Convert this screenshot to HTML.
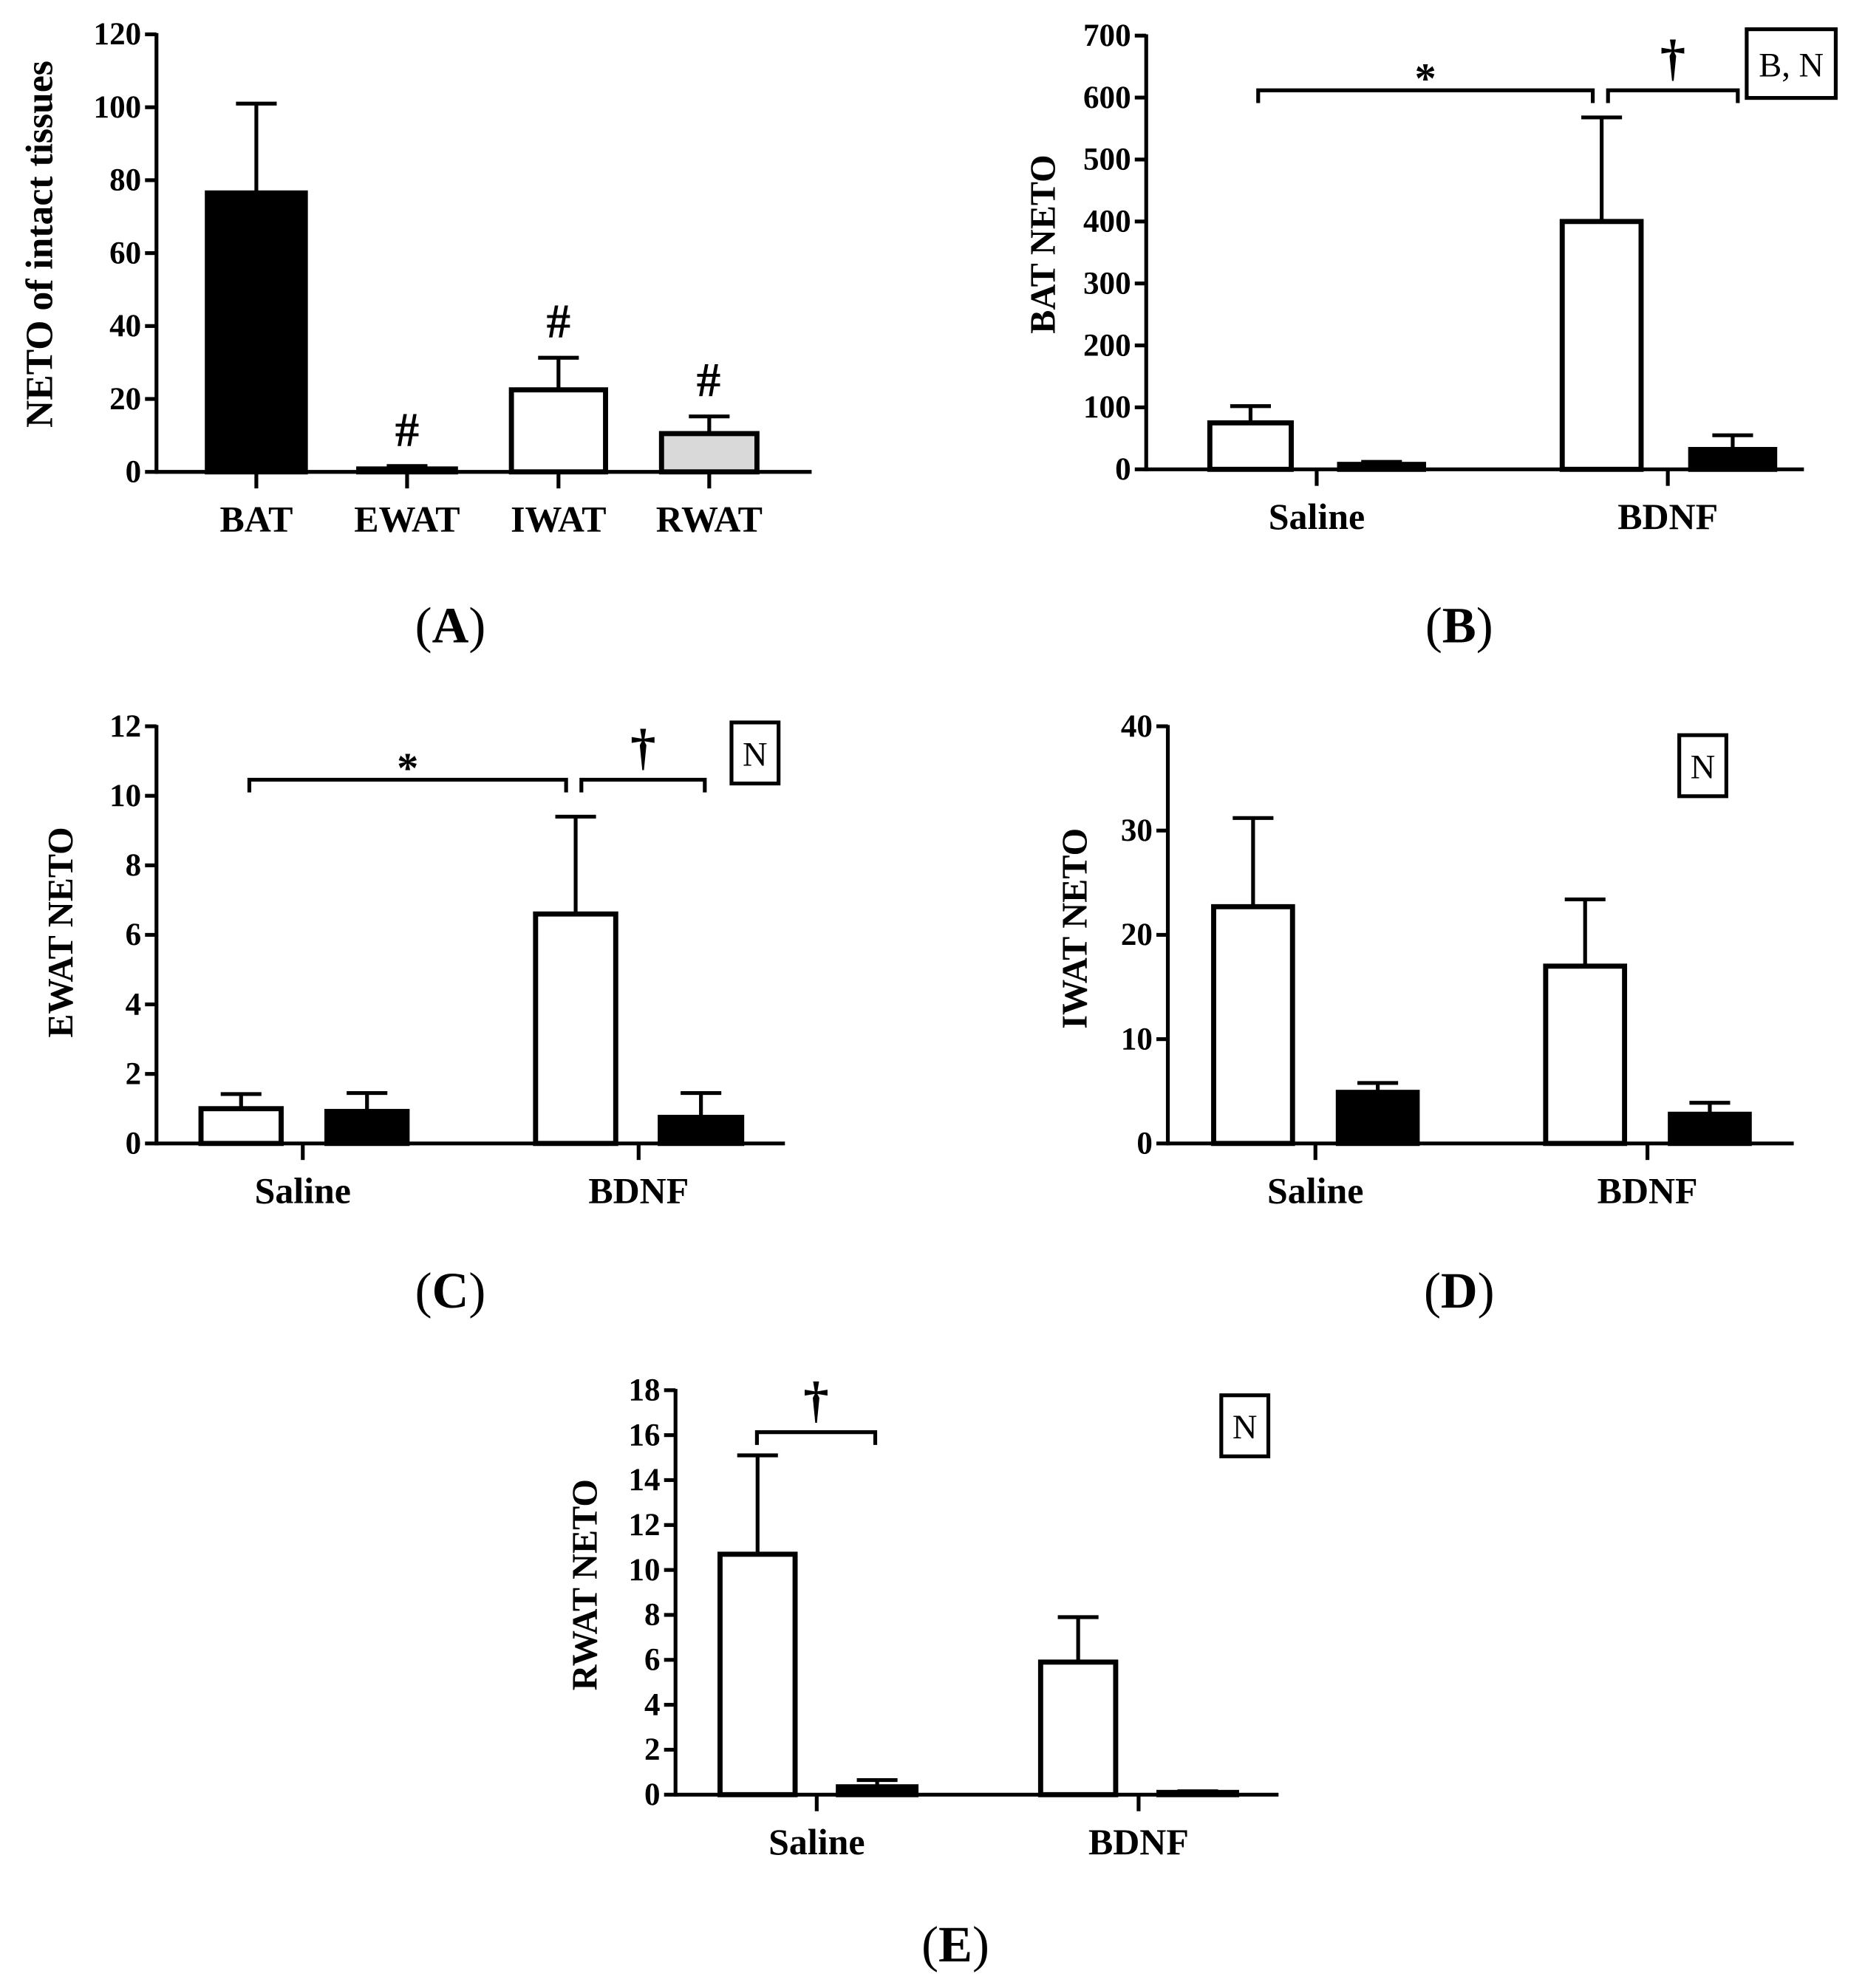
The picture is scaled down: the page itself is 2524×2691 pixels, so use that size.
<!DOCTYPE html>
<html><head><meta charset="utf-8"><style>
html,body{margin:0;padding:0;background:#fff;}
svg{display:block;}
text{font-family:"Liberation Serif",serif;fill:#000;}
</style></head><body>
<svg id="fig" width="2524" height="2691" viewBox="0 0 1466 1563" preserveAspectRatio="none" xmlns="http://www.w3.org/2000/svg"></svg>
<script>
// Panel A data
const aCats = ["BAT","EWAT","IWAT","RWAT"];
const aVals = [76.5, 0.8, 22.5, 10.5];
const aErr = [101, 1.6, 31.3, 15.2];
const aTicks = [0,20,40,60,80,100,120];
// Panel B data
const bGroups = ["Saline","BDNF"];
const bWhite = [75, 400];
const bWhiteErr = [102, 568];
const bBlack = [8, 32];
const bBlackErr = [12, 55];
const bTicks = [0,100,200,300,400,500,600,700];
// Panel C data
const cWhite = [1.0, 6.6];
const cWhiteErr = [1.42, 9.4];
const cBlack = [0.92, 0.75];
const cBlackErr = [1.45, 1.45];
const cTicks = [0,2,4,6,8,10,12];
// Panel D data
const dWhite = [22.7, 17.0];
const dWhiteErr = [31.2, 23.4];
const dBlack = [4.9, 2.8];
const dBlackErr = [5.8, 3.9];
const dTicks = [0,10,20,30,40];
// Panel E data
const eWhite = [10.7, 5.9];
const eWhiteErr = [15.1, 7.9];
const eBlack = [0.35, 0.1];
const eBlackErr = [0.65, 0.15];
const eTicks = [0,2,4,6,8,10,12,14,16,18];

const NS="http://www.w3.org/2000/svg";
const svg=document.getElementById('fig');
function el(tag,attrs,parent,txt){const e=document.createElementNS(NS,tag);for(const k in attrs)e.setAttribute(k,attrs[k]);if(txt!==undefined)e.textContent=txt;(parent||svg).appendChild(e);return e;}

function panel(cfg){
  const g=el('g',{});
  
  
  const ymax=cfg.ticks[cfg.ticks.length-1];
  const Y=v=>cfg.y0-(v/ymax)*(cfg.y0-cfg.yTop);
  cfg.bars.forEach(b=>{
    const top=Y(b.v);
    const cx=(b.x1+b.x2)/2;
    const eb=el('line',{x1:cx,x2:cx,y1:top,y2:Y(b.e),stroke:'#000','stroke-width':3},g);
    
    
    const cap=el('line',{x1:cx-16,x2:cx+16,y1:Y(b.e),y2:Y(b.e),stroke:'#000','stroke-width':3},g);
    
    
    const r=el('rect',{x:b.x1,y:top,width:b.x2-b.x1,height:Math.max(cfg.y0-top,0.5),fill:b.fill,stroke:'#000','stroke-width':4},g);
    
    
  });
  const ya=el('line',{x1:cfg.x0,x2:cfg.x0,y1:cfg.yTop-1,y2:cfg.y0+1.5,stroke:'#000','stroke-width':3},g);
  
  
  const xa=el('line',{x1:cfg.x0,x2:cfg.xEnd,y1:cfg.y0,y2:cfg.y0,stroke:'#000','stroke-width':3},g);
  
  
  cfg.ticks.forEach(t=>{
    const y=Y(t);
    el('line',{x1:cfg.x0-9,x2:cfg.x0,y1:y,y2:y,stroke:'#000','stroke-width':3},g);
    const tl=el('text',{x:cfg.x0-12,y:y+8,'text-anchor':'end','font-size':25,'font-weight':'bold'},g,String(t));
    
    
  });
  cfg.cats.forEach(c=>{
    el('line',{x1:c.x,x2:c.x,y1:cfg.y0,y2:cfg.y0+13,stroke:'#000','stroke-width':3},g);
    const cl=el('text',{x:c.x,y:cfg.y0+47,'text-anchor':'middle','font-size':29,'font-weight':'bold'},g,c.label);
    
    
  });
  const yt=el('text',{x:0,y:0,'text-anchor':'middle','font-size':cfg.ytfs||28,'font-weight':'bold',transform:`translate(${cfg.ytx},${cfg.yty}) rotate(-90)`},g,cfg.ytitle);
  
  
  const pl=el('text',{x:cfg.plx,y:cfg.ply,'text-anchor':'middle','font-size':40,'font-weight':'bold'},g,'');
  
  
  el('tspan',{'font-weight':'normal'},pl,'(');
  el('tspan',{},pl,cfg.letter);
  el('tspan',{'font-weight':'normal'},pl,')');
  (cfg.brackets||[]).forEach(b=>{
    const p=el('path',{d:`M${b.x1},${b.y+10} V${b.y} H${b.x2} V${b.y+10}`,fill:'none',stroke:'#000','stroke-width':3},g);
    
    
    const s=el('text',{x:(b.x1+b.x2)/2,y:b.sym==='*'?b.y+2:b.y-12,'text-anchor':'middle','font-size':b.sym==='*'?34:40,'font-weight':'bold'},g,b.sym);
    
    
  });
  (cfg.marks||[]).forEach(m=>{
    const s=el('text',{x:m.x,y:Y(m.v)-16,'text-anchor':'middle','font-size':38,'font-weight':'bold'},g,m.sym);
    
    
  });
  if(cfg.box){
    const b=cfg.box;
    const r=el('rect',{x:b.x,y:b.y,width:b.w,height:b.h,fill:'#fff',stroke:'#000','stroke-width':3},g);
    
    
    const t=el('text',{x:b.x+b.w/2,y:b.y+b.h/2+10,'text-anchor':'middle','font-size':27},g,b.t);
    
    
  }
}

const aX=[[163,240],[282,358],[402,476],[520,595]];
const aFill=['#000','#000','#fff','#d9d9d9'];
panel({name:'panel-a',letter:'A',x0:123,xEnd:638,y0:371,yTop:27,ticks:aTicks,
  bars:aCats.map((c,i)=>({name:'bar-'+c.toLowerCase(),x1:aX[i][0],x2:aX[i][1],v:aVals[i],e:aErr[i],fill:aFill[i]})),
  cats:aCats.map((c,i)=>({x:(aX[i][0]+aX[i][1])/2,label:c})),
  marks:[{x:320,v:aErr[1],sym:'#'},{x:439,v:aErr[2],sym:'#'},{x:557,v:aErr[3],sym:'#'}],
  ytitle:'NETO of intact tissues',ytfs:30,ytx:41,yty:192,plx:354,ply:505});

function twoGroup(name,letter,x0,xEnd,y0,yTop,ticks,wX,bX,white,whiteErr,black,blackErr,catX,yt,ytx,yty,plx,ply,brackets,box){
  const bars=[];
  bGroups.forEach((gname,i)=>{
    bars.push({name:'bar-'+gname.toLowerCase()+'-white',x1:wX[i][0],x2:wX[i][1],v:white[i],e:whiteErr[i],fill:'#fff'});
    bars.push({name:'bar-'+gname.toLowerCase()+'-black',x1:bX[i][0],x2:bX[i][1],v:black[i],e:blackErr[i],fill:'#000'});
  });
  panel({name,letter,x0,xEnd,y0,yTop,ticks,bars,cats:bGroups.map((g,i)=>({x:catX[i],label:g})),ytitle:yt,ytx,yty,plx,ply,brackets,box});
}
twoGroup('panel-b','B',901,1418,369,28,bTicks,[[951,1015],[1228,1290]],[[1053,1119],[1329,1395]],bWhite,bWhiteErr,bBlack,bBlackErr,[1035,1311],'BAT NETO',829,192,1147,505,
  [{x1:989,x2:1252,y:71,sym:'*'},{x1:1264,x2:1366,y:71,sym:'†'}],{x:1373,y:23,w:70,h:54,t:'B, N'});
twoGroup('panel-c','C',123,617,899,571,cTicks,[[158,221],[421,484]],[[257,320],[519,583]],cWhite,cWhiteErr,cBlack,cBlackErr,[238,502],'EWAT NETO',57,733,354,1028,
  [{x1:196,x2:445,y:613,sym:'*'},{x1:457,x2:554,y:613,sym:'†'}],{x:575,y:568,w:37,h:48,t:'N'});
twoGroup('panel-d','D',918,1410,899,571,dTicks,[[954,1016],[1215,1277]],[[1052,1114],[1313,1375]],dWhite,dWhiteErr,dBlack,dBlackErr,[1034,1295],'IWAT NETO',854,730,1147,1028,
  [],{x:1320,y:578,w:37,h:48,t:'N'});
twoGroup('panel-e','E',531,1005,1411,1093,eTicks,[[566,625],[818,877]],[[659,720],[911,972]],eWhite,eWhiteErr,eBlack,eBlackErr,[642,895],'RWAT NETO',469,1246,751,1542,
  [{x1:595,x2:688,y:1126,sym:'†'}],{x:960,y:1097,w:37,h:48,t:'N'});
</script>
</body></html>
